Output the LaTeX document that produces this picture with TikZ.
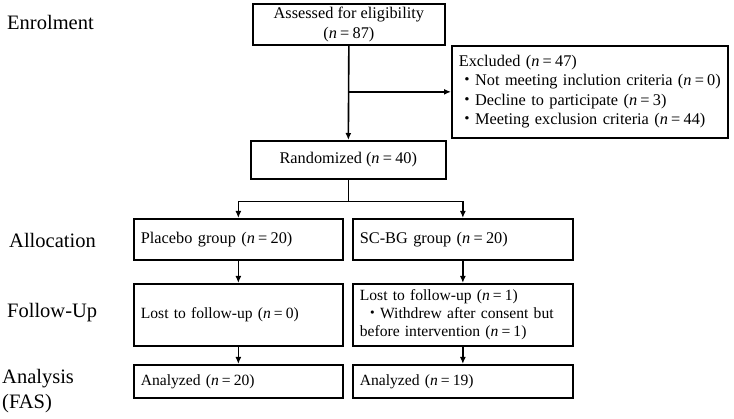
\documentclass[tikz,border=0pt]{standalone}
\usepackage{fontspec}
\setmainfont{Liberation Serif}
\newfontfamily\cjk{Noto Sans CJK JP}
\usetikzlibrary{arrows.meta}
\newcommand{\nn}[1]{(\textit{n}\hspace{0.2em}=\hspace{0.2em}#1)}
\newcommand{\bul}{{\cjk ・}}
\begin{document}
\begin{tikzpicture}[x=1pt,y=-1pt,
  box/.style={draw, line width=1.7pt, anchor=north west, inner xsep=7pt, inner ysep=0pt,
    font=\fontsize{16.3}{19.5}\selectfont},
  lbox/.style={box, align=left},
  cbox/.style={box, align=center},
  stage/.style={anchor=west, inner sep=0pt, font=\fontsize{20.5}{25}\selectfont, align=left},
  conn/.style={line width=1.6pt},
  arr/.style={conn, -{Latex[length=7pt,width=6pt]}}]
\useasboundingbox (0,0) rectangle (734,419);

% stage labels
\node[stage] (lenrol) at (7,22) {Enrolment};
\node[stage] (lalloc) at (9,240) {Allocation};
\node[stage] (lfollow) at (7,313) {Follow-Up};
\node[stage] (lanal) at (2,391) {Analysis\\(FAS)};

% boxes
\node[cbox, minimum width=192pt, minimum height=41pt] (assess) at (252,3)
  {Assessed for eligibility\\\nn{87}};
\node[lbox, text width=262pt, minimum height=92pt, inner xsep=7pt] (excl) at (451,45)
  {Excluded \nn{47}\\\bul Not meeting inclution criteria \nn{0}\\\bul Decline to participate \nn{3}\\\bul Meeting exclusion criteria \nn{44}};
\node[cbox, minimum width=195pt, minimum height=38pt] (rand) at (250,140)
  {Randomized \nn{40}};
\node[lbox, text width=195pt, minimum height=41pt] (plac) at (133,218)
  {Placebo group \nn{20}};
\node[lbox, text width=206pt, minimum height=41pt] (scbg) at (352,218)
  {SC-BG group \nn{20}};
\node[lbox, text width=195pt, minimum height=62pt, font=\fontsize{15.6}{18}\selectfont] (fplac) at (133,283)
  {Lost to follow-up \nn{0}};
\node[lbox, text width=206pt, minimum height=62pt, font=\fontsize{15.6}{18}\selectfont] (fscbg) at (352,283)
  {Lost to follow-up \nn{1}\\\hspace*{0.3em}\bul Withdrew after consent but\\before intervention \nn{1}};
\node[lbox, text width=195pt, minimum height=33pt, font=\fontsize{15.6}{18}\selectfont] (aplac) at (133,364)
  {Analyzed \nn{20}};
\node[lbox, text width=206pt, minimum height=33pt, font=\fontsize{15.6}{18}\selectfont] (ascbg) at (352,364)
  {Analyzed \nn{19}};

% connectors
\coordinate (jexcl) at (assess.south |- excl.west);
\coordinate (split) at ([yshift=-22pt]rand.south);
\draw[arr] (assess.south) -- (rand.north);
\draw[arr] (jexcl) -- (excl.west);
\draw[conn] (rand.south) -- (split);
\draw[arr] (split) -| (plac.north);
\draw[arr] (split) -| (scbg.north);
\draw[arr] (plac.south) -- (fplac.north);
\draw[arr] (scbg.south) -- (fscbg.north);
\draw[arr] (fplac.south) -- (aplac.north);
\draw[arr] (fscbg.south) -- (ascbg.north);
\end{tikzpicture}
\end{document}
